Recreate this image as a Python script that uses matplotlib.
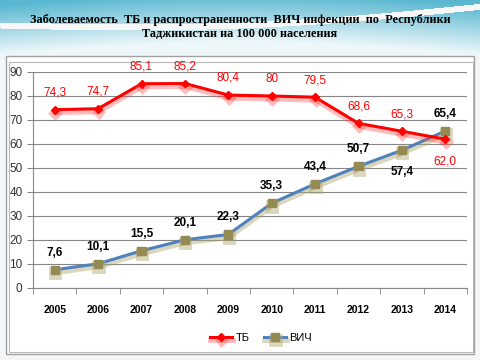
import matplotlib
matplotlib.use("Agg")
import matplotlib.pyplot as plt
import numpy as np
from matplotlib.patches import Rectangle
import matplotlib.patheffects as pe

years = ["2005", "2006", "2007", "2008", "2009", "2010", "2011", "2012", "2013", "2014"]
tb = [74.3, 74.7, 85.1, 85.2, 80.4, 80.0, 79.5, 68.6, 65.3, 62.0]
tb_labels = ["74,3", "74,7", "85,1", "85,2", "80,4", "80", "79,5", "68,6", "65,3", "62,0"]
hiv = [7.6, 10.1, 15.5, 20.1, 22.3, 35.3, 43.4, 50.7, 57.4, 65.4]
hiv_labels = ["7,6", "10,1", "15,5", "20,1", "22,3", "35,3", "43,4", "50,7", "57,4", "65,4"]
title = "Заболеваемость  ТБ и распространенности  ВИЧ инфекции  по  Республики\nТаджикистан на 100 000 населения"

fig = plt.figure(figsize=(4.8, 3.6), dpi=100)

# background
bg = fig.add_axes([0, 0, 1, 1])
bg.set_xlim(0, 480); bg.set_ylim(360, 0); bg.axis("off")
h = 60
grad = np.zeros((h, 480, 3))
yy = np.linspace(0, 1, h)[:, None]
xx = np.linspace(0, 1, 480)[None, :]
top = np.array([0.35, 0.72, 0.82]); white = np.array([0.93, 0.97, 0.98])
t = np.clip(yy * 1.2 - 0.1 + 0.25 * np.sin(xx * 3.14), 0, 1)
for c in range(3):
    grad[:, :, c] = top[c] * (1 - t) + white[c] * t
wave = 25 - 20 * xx + 10 * np.sin(xx * 3)
mask = np.abs(np.arange(h)[:, None] - wave) < 3
grad[mask] = 0.97
bg.imshow(grad, extent=[0, 480, 60, 0], aspect="auto", zorder=0)
bg.add_patch(Rectangle((0, 60), 480, 300, color="#f4f6f7", zorder=0))
bg.add_patch(Rectangle((6, 56), 468, 298, facecolor="white", edgecolor="#a0a0a0", lw=1, zorder=1))
bg.add_patch(Rectangle((9, 62), 464, 290, facecolor="white", edgecolor="#b8b8b8", lw=0.8, zorder=1))
bg.text(240, 27, title, ha="center", va="center", fontsize=8.8, fontweight="bold",
        family="Liberation Serif", linespacing=1.15, zorder=2)

ax = fig.add_axes([33/480, 1 - 288/360, (467 - 33)/480, (288 - 72)/360])
ax.set_facecolor("none")
x = np.arange(len(years))
ax.plot(x, tb, color="#ff0000", lw=2.2, marker="D", ms=4, markeredgecolor="#ff0000",
        label="ТБ", zorder=4,
        path_effects=[pe.SimpleLineShadow(offset=(0.3, -2.2), shadow_color="#ff4040", alpha=0.35, linewidth=3.5), pe.Normal()])
ax.plot(x, hiv, color="#4f81bd", lw=2.2, marker="s", ms=6, markerfacecolor="#948a54",
        markeredgecolor="#948a54", label="ВИЧ", zorder=3,
        path_effects=[pe.SimpleLineShadow(offset=(0.3, -2.2), shadow_color="#b0a870", alpha=0.45, linewidth=3.5), pe.Normal()])

for i, (v, s) in enumerate(zip(tb, tb_labels)):
    dy = -12 if i == 9 else 8
    ax.annotate(s, (i, v), xytext=(0, dy), textcoords="offset points", ha="center", va="bottom" if dy > 0 else "top",
                color="#ff0000", fontsize=8.5, family="Liberation Sans", zorder=5, annotation_clip=False)
for i, (v, s) in enumerate(zip(hiv, hiv_labels)):
    dy = -11 if i == 8 else 8
    ax.annotate(s, (i, v), xytext=(0, dy), textcoords="offset points", ha="center", va="bottom" if dy > 0 else "top",
                color="black", fontsize=8.5, fontweight="bold", family="Liberation Sans", zorder=5)

ax.set_xlim(-0.5, 9.5)
ax.set_ylim(0, 90)
ax.set_yticks(range(0, 91, 10))
ax.set_xticks(x)
ax.set_xticklabels(years, fontsize=7.5, fontweight="bold", family="Liberation Sans")
ax.set_xticks(np.arange(-0.5, 10, 1), minor=True)
ax.tick_params(axis="x", which="major", length=0, pad=12)
ax.tick_params(axis="x", which="minor", length=4, color="#868686")
ax.tick_params(axis="y", labelsize=8.5, length=4, color="#868686", labelcolor="#333333")
for lab in ax.get_yticklabels():
    lab.set_family("Liberation Sans")
ax.grid(axis="y", color="#868686", lw=0.8)
ax.set_axisbelow(True)
for s in ["top", "right"]:
    ax.spines[s].set_visible(False)
ax.spines["left"].set_color("#868686")
ax.spines["bottom"].set_color("#868686")

leg = fig.legend(loc="center", bbox_to_anchor=(261/480, 1 - 338/360), ncol=2, frameon=False,
                 handlelength=2.0, handletextpad=0.3, columnspacing=1.3,
                 prop={"family": "Liberation Sans", "size": 8})
fig.savefig("out.png", dpi=100)
